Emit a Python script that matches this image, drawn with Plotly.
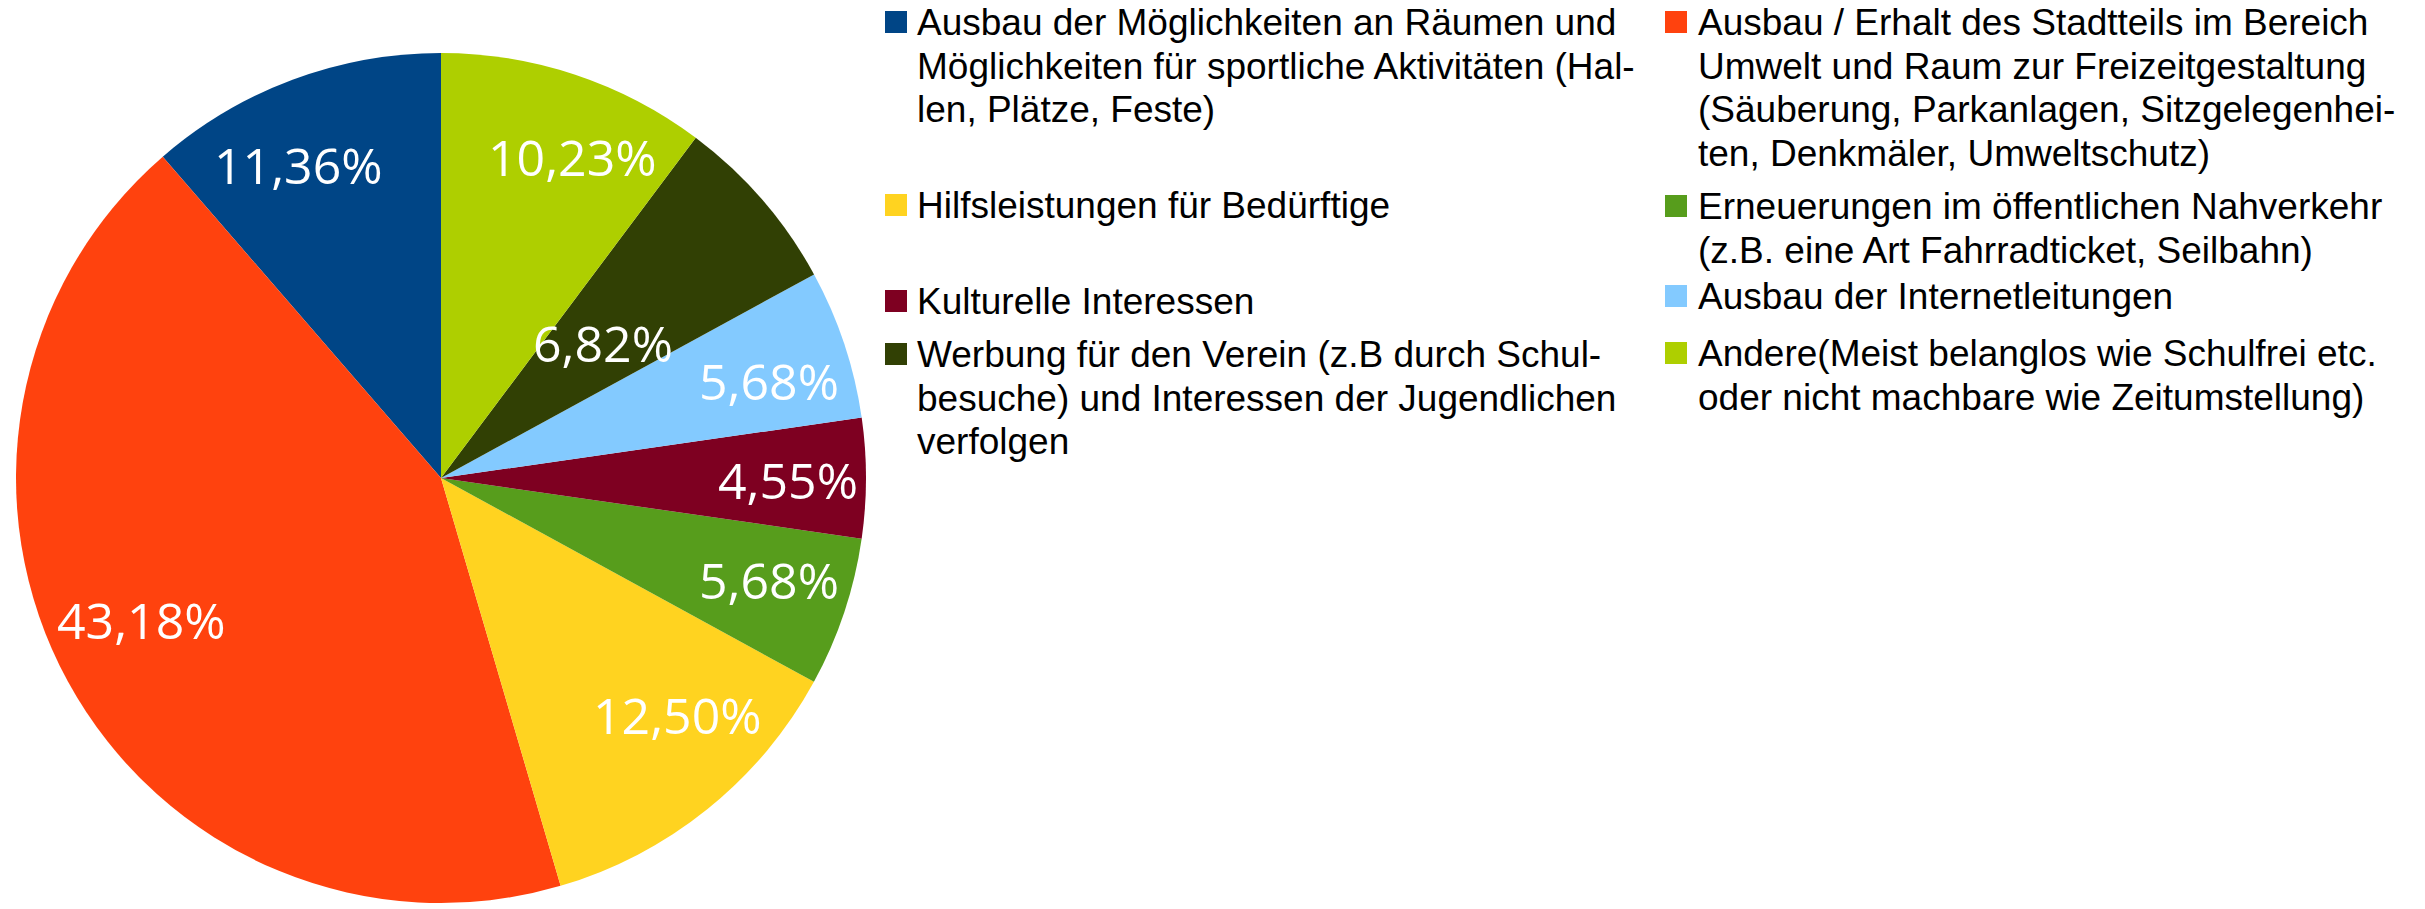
import math
import plotly.graph_objects as go

# ---------------- data ----------------
categories = [
    "Ausbau der Möglichkeiten an Räumen und Möglichkeiten für sportliche Aktivitäten (Hallen, Plätze, Feste)",
    "Ausbau / Erhalt des Stadtteils im Bereich Umwelt und Raum zur Freizeitgestaltung (Säuberung, Parkanlagen, Sitzgelegenheiten, Denkmäler, Umweltschutz)",
    "Hilfsleistungen für Bedürftige",
    "Erneuerungen im öffentlichen Nahverkehr (z.B. eine Art Fahrradticket, Seilbahn)",
    "Kulturelle Interessen",
    "Ausbau der Internetleitungen",
    "Werbung für den Verein (z.B durch Schulbesuche) und Interessen der Jugendlichen verfolgen",
    "Andere(Meist belanglos wie Schulfrei etc. oder nicht machbare wie Zeitumstellung)",
]
percent_values = [11.36, 43.18, 12.50, 5.68, 4.55, 5.68, 6.82, 10.23]
colors = ["#004586", "#ff420e", "#ffd320", "#579d1c", "#7e0021", "#83caff", "#314004", "#aecf00"]

# legend text as wrapped in the original (lines per entry)
legend_lines = [
    ["Ausbau der Möglichkeiten an Räumen und", "Möglichkeiten für sportliche Aktivitäten (Hal-", "len, Plätze, Feste)"],
    ["Ausbau / Erhalt des Stadtteils im Bereich", "Umwelt und Raum zur Freizeitgestaltung", "(Säuberung, Parkanlagen, Sitzgelegenhei-", "ten, Denkmäler, Umweltschutz)"],
    ["Hilfsleistungen für Bedürftige"],
    ["Erneuerungen im öffentlichen Nahverkehr", "(z.B. eine Art Fahrradticket, Seilbahn)"],
    ["Kulturelle Interessen"],
    ["Ausbau der Internetleitungen"],
    ["Werbung für den Verein (z.B durch Schul-", "besuche) und Interessen der Jugendlichen", "verfolgen"],
    ["Andere(Meist belanglos wie Schulfrei etc.", "oder nicht machbare wie Zeitumstellung)"],
]

# ---------------- layout constants ----------------
W, H = 2425, 909
OFF = 0  # page body margin is removed via post_script

def px(x):
    return (x - OFF) / W

def py(y):
    return 1 - (y - OFF) / H

# pie placement in page pixels
PIE_L, PIE_R, PIE_T, PIE_B = 16, 866, 53, 903
dom_x = [px(PIE_L), px(PIE_R)]
dom_y = [py(PIE_B), py(PIE_T)]

total = sum(percent_values)
# plotly's counterclockwise mode ends the first slice at the rotation angle;
# shift so the first slice starts at 12 o'clock and runs counterclockwise
rot = -percent_values[0] / total * 360

fig = go.Figure()
fig.add_trace(go.Pie(
    labels=categories,
    values=percent_values,
    marker=dict(colors=colors, line=dict(width=0)),
    sort=False,
    direction="counterclockwise",
    rotation=rot,
    textinfo="none",
    hoverinfo="label+percent",
    domain=dict(x=dom_x, y=dom_y),
    showlegend=False,
))

annotations = []
shapes = []

# percentage labels inside slices (mid-angle placement + small nudges like the original)
cx = (PIE_L + PIE_R) / 2
cy = (PIE_T + PIE_B) / 2
R = min(PIE_R - PIE_L, PIE_B - PIE_T) / 2
label_rad = [0.8, 0.8, 0.8, 0.8, 0.8, 0.8, 0.49, 0.8]
label_nudge = [(-24, 7), (-1, -20), (23, -27), (5, -5), (7, 3), (5, 11), (5, 2), (24, 3)]
cum = 0.0
for i, v in enumerate(percent_values):
    mid = (cum + v / 2) / total * 2 * math.pi
    cum += v
    lx = cx - label_rad[i] * R * math.sin(mid) + label_nudge[i][0]
    ly = cy - label_rad[i] * R * math.cos(mid) + label_nudge[i][1]
    txt = f"{v / total * 100:.2f}%".replace(".", ",")
    annotations.append(dict(
        x=px(lx), y=py(ly - 1), xref="paper", yref="paper",
        text=txt, showarrow=False, xanchor="center", yanchor="middle",
        font=dict(family="Open Sans", size=50, color="white"),
    ))

# manual two-column legend
col_sq_x = [885, 1665]
col_txt_x = [915, 1696]
first_centers = {0: 22, 2: 205, 4: 301, 6: 354, 1: 22, 3: 206, 5: 296, 7: 353}
line_step = 43.7
sq = 22
for i, lines in enumerate(legend_lines):
    col = i % 2
    c0 = first_centers[i]
    shapes.append(dict(
        type="rect", xref="paper", yref="paper",
        x0=px(col_sq_x[col]), x1=px(col_sq_x[col] + sq),
        y0=py(c0 + sq / 2), y1=py(c0 - sq / 2),
        fillcolor=colors[i], line=dict(width=0),
    ))
    for j, ln in enumerate(lines):
        annotations.append(dict(
            x=px(col_txt_x[col]), y=py(c0 + j * line_step + 0.5),
            xref="paper", yref="paper", text=ln, showarrow=False,
            xanchor="left", yanchor="middle",
            font=dict(family="Liberation Sans", size=37, color="black"),
        ))

fig.update_layout(
    width=W, height=H,
    margin=dict(l=0, r=0, t=0, b=0),
    paper_bgcolor="white", plot_bgcolor="white",
    annotations=annotations, shapes=shapes,
    separators=",.",
)

fig.write_html(
    "out.html",
    config={"displayModeBar": False},
    post_script="document.body.style.margin='0';",
)
